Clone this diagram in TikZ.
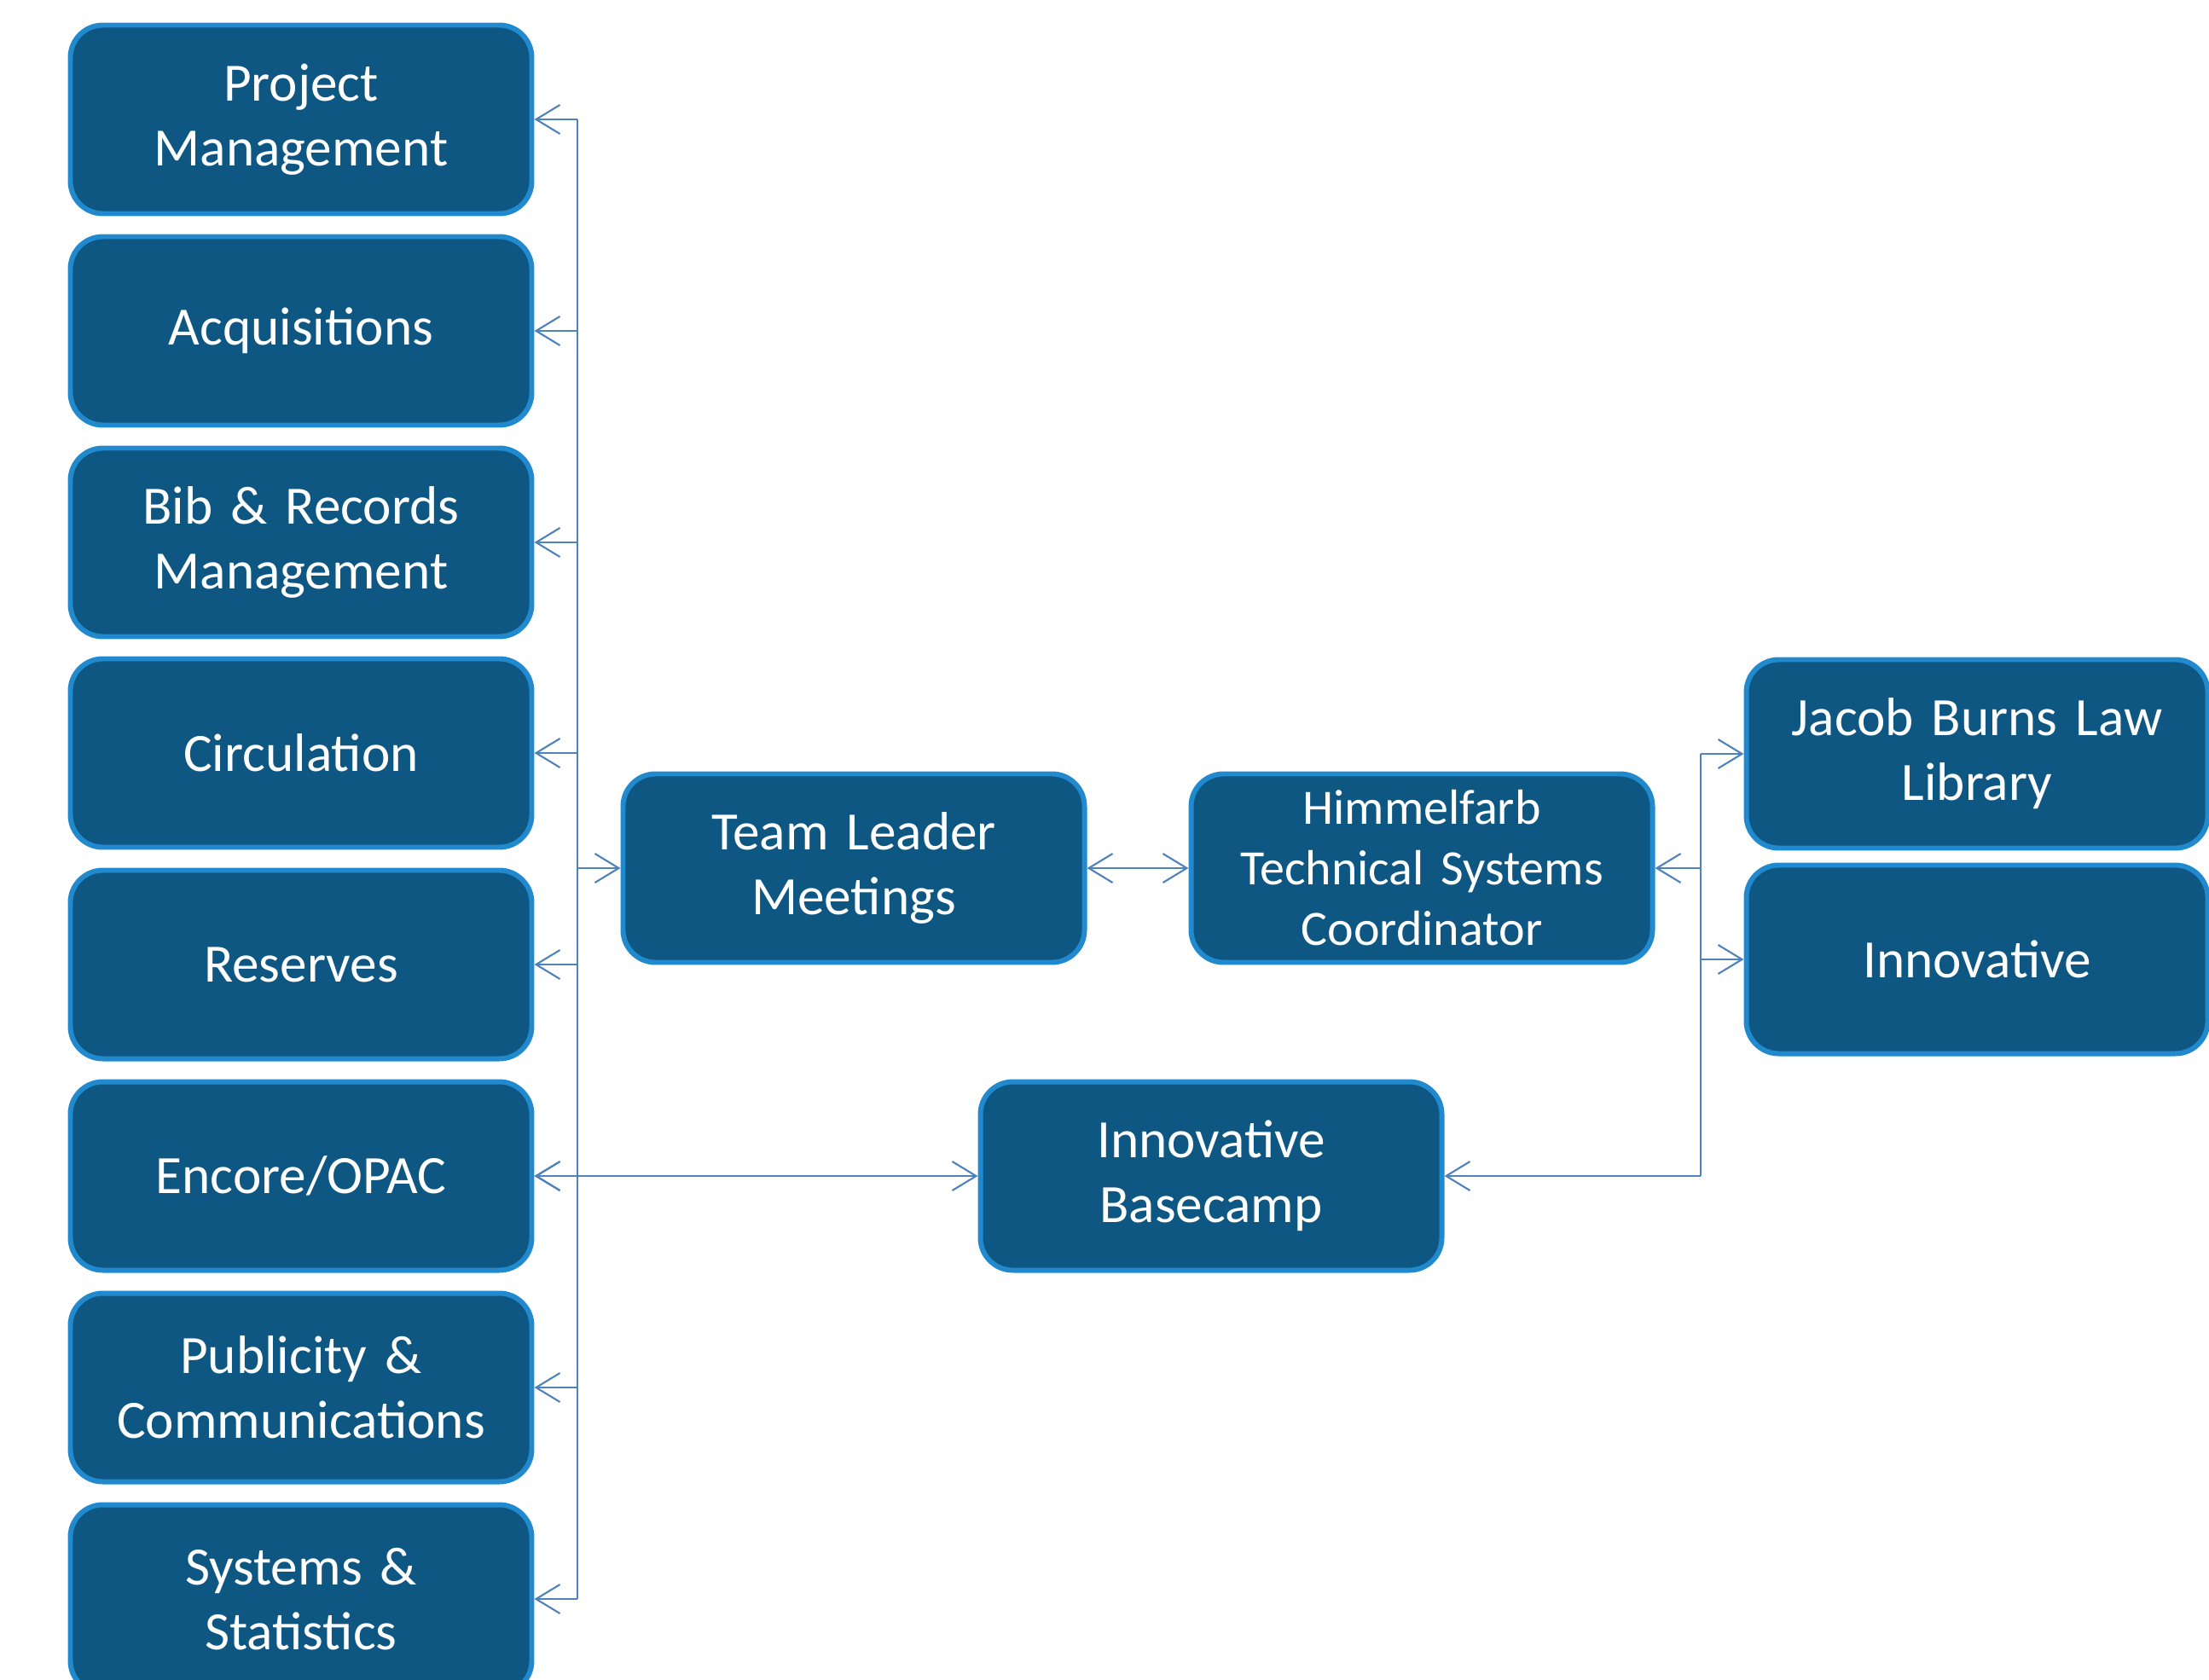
\documentclass[tikz,border=0pt]{standalone}
\usepackage{fontspec}
\setmainfont{Carlito}
\usetikzlibrary{arrows.meta}
\definecolor{boxfill}{RGB}{15,87,131}
\definecolor{boxline}{RGB}{33,137,206}
\definecolor{linkline}{RGB}{79,129,189}

\begin{document}
\begin{tikzpicture}[
  unit/.style={draw=boxline, line width=1.7pt, fill=boxfill, rounded corners=0.38cm,
    minimum width=5.41cm, minimum height=2.21cm, inner sep=0pt, text width=5cm,
    align=center, text=white, font=\fontsize{18}{21.6}\selectfont},
  link/.style={draw=linkline, line width=0.6pt},
  >={Straight Barb[length=0.28cm,width=0.34cm]}
]
  \useasboundingbox (0,0) rectangle (25.9,-19.69);

  \node[unit] (pm) at (3.53,-1.40) {Project\\Management};
  \node[unit] (acq) at (3.53,-3.88) {Acquisitions};
  \node[unit] (bib) at (3.53,-6.36) {Bib \& Records\\Management};
  \node[unit] (circ) at (3.53,-8.83) {Circulation};
  \node[unit] (res) at (3.53,-11.31) {Reserves};
  \node[unit] (enc) at (3.53,-13.79) {Encore/OPAC};
  \node[unit] (pub) at (3.53,-16.27) {Publicity \&\\Communications};
  \node[unit] (sys) at (3.53,-18.75) {Systems \&\\Statistics};

  \node[unit] (tlm) at (10.01,-10.18) {Team Leader\\Meetings};
  \node[unit, font=\fontsize{16.5}{20.2}\selectfont] (him) at (16.67,-10.18)
    {Himmelfarb\\Technical Systems\\Coordinator};
  \node[unit] (base) at (14.20,-13.79) {Innovative\\Basecamp};
  \node[unit] (jac) at (23.18,-8.84) {Jacob Burns Law\\Library};
  \node[unit] (inn) at (23.18,-11.25) {Innovative};

  \coordinate (ltrunk) at (6.77,0);
  \coordinate (rtrunk) at (19.94,0);

  \draw[link] (pm.east -| ltrunk) -- (sys.east -| ltrunk);
  \foreach \n in {pm,acq,bib,circ,res,enc,pub,sys}
    \draw[link,->] (\n.east -| ltrunk) -- (\n.east);
  \draw[link,->] (tlm.west -| ltrunk) -- (tlm.west);
  \draw[link,<->] (enc.east) -- (base.west);
  \draw[link,<->] (tlm.east) -- (him.west);

  \draw[link] (jac.west -| rtrunk) -- (base.east -| rtrunk);
  \draw[link,->] (him.east -| rtrunk) -- (him.east);
  \draw[link,->] (jac.west -| rtrunk) -- (jac.west);
  \draw[link,->] (inn.west -| rtrunk) -- (inn.west);
  \draw[link,->] (base.east -| rtrunk) -- (base.east);
\end{tikzpicture}
\end{document}
